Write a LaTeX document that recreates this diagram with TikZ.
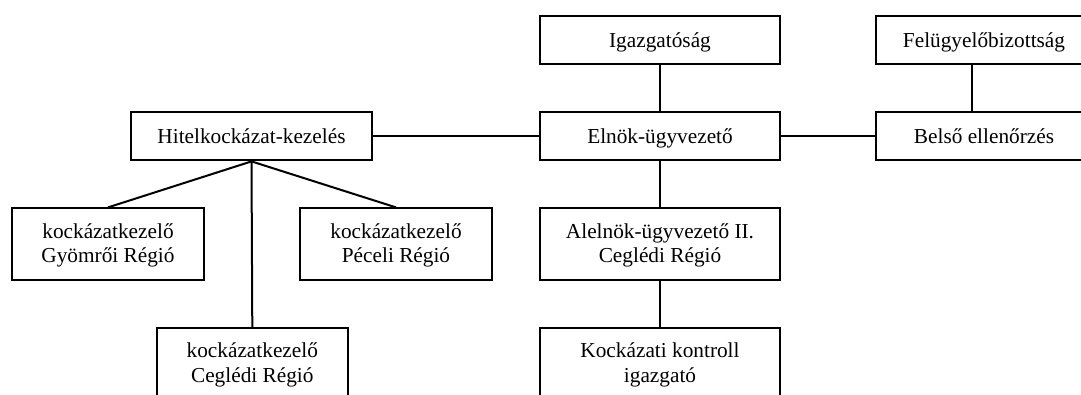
\documentclass[tikz,border=0pt]{standalone}
\usepackage{fontspec}
\setmainfont{Liberation Serif}
\begin{document}
\begin{tikzpicture}[x=1pt,y=-1pt,
  box/.style={draw, line width=2pt, rectangle, inner sep=0pt, align=center,
    font=\fontsize{21.3}{24.7}\selectfont},
  onerow/.style={box, minimum height=48pt, text height=16pt, text depth=2pt},
  tworow/.style={box, minimum height=72pt, text height=39pt, text depth=2.4pt},
  conn/.style={line width=2pt}]
\useasboundingbox (0,0) rectangle (1081,394);
\clip (0,0) rectangle (1081,394);
% top row
\node[onerow, minimum width=240pt] (igaz) at (660,40) {Igazgatóság};
\node[onerow, minimum width=216pt] (felugy) at (984,40) {Felügyelőbizottság};
% second row
\node[onerow, minimum width=241pt] (hitel) at (251.5,136.4) {Hitelkockázat-kezelés};
\node[onerow, minimum width=240pt] (elnok) at (660,136.4) {Elnök-ügyvezető};
\node[onerow, minimum width=216pt] (belso) at (984,136.4) {Belső ellenőrzés};
% third row
\node[tworow, minimum width=192pt] (gyom) at (108,244.4) {kockázatkezelő\\Gyömrői Régió};
\node[tworow, minimum width=192pt] (pec) at (396,244.4) {kockázatkezelő\\Péceli Régió};
\node[tworow, minimum width=240pt] (alel) at (660,244.4) {Alelnök-ügyvezető II.\\Ceglédi Régió};
% fourth row
\node[tworow, minimum width=191pt] (cegl) at (252.3,364.3) {kockázatkezelő\\Ceglédi Régió};
\node[tworow, minimum width=240pt] (kock) at (660,364.3) {Kockázati kontroll\\igazgató};
% connectors
\draw[conn] (igaz.south) -- (elnok.north);
\draw[conn] ([xshift=-12pt]felugy.south) -- ([xshift=-12pt]belso.north);
\draw[conn] (hitel.east) -- (elnok.west);
\draw[conn] (elnok.east) -- (belso.west);
\draw[conn] (elnok.south) -- (alel.north);
\draw[conn] (alel.south) -- (kock.north);
\draw[conn] (hitel.south) -- (gyom.north);
\draw[conn] (hitel.south) -- (pec.north);
\draw[conn] (hitel.south) -- (cegl.north);
\end{tikzpicture}
\end{document}
